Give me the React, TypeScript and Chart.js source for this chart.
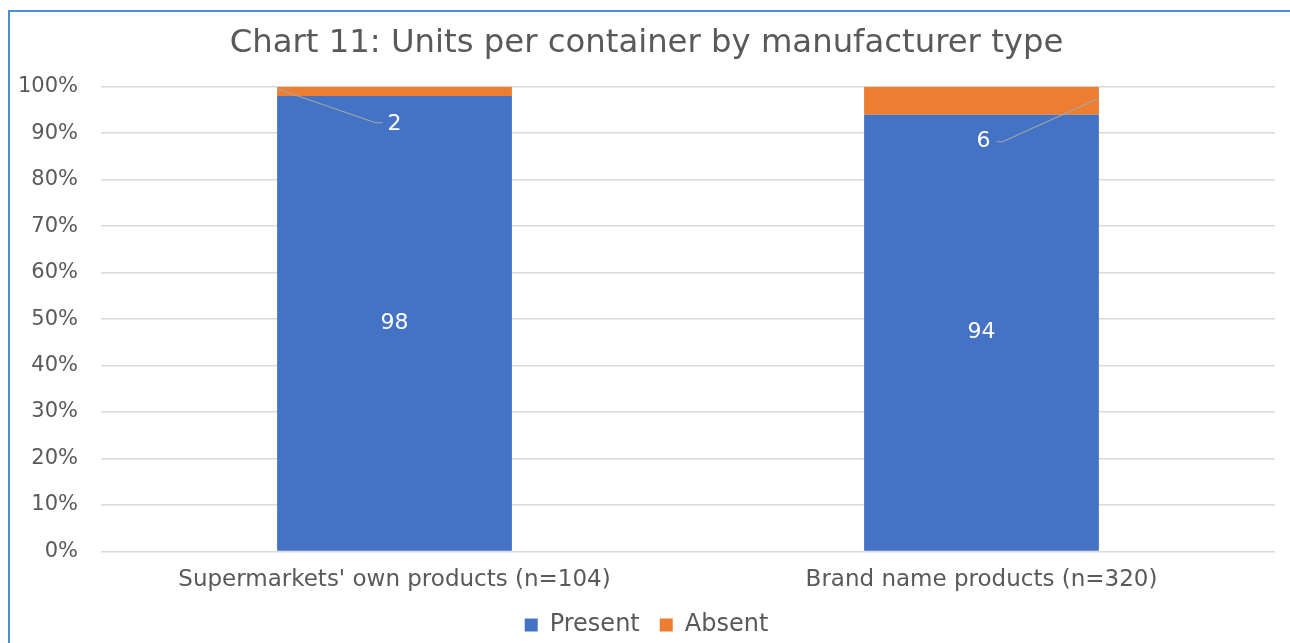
import React, { useEffect, useRef } from "react";
import { Chart, registerables } from "chart.js";

Chart.register(...registerables);

const categories = ["Supermarkets' own products (n=104)", "Brand name products (n=320)"];
const presentValues = [98, 94];
const absentValues = [2, 6];
const yTicks = [0, 10, 20, 30, 40, 50, 60, 70, 80, 90, 100];

const FONT = "'DejaVu Sans', sans-serif";
const GREY = "#595959";

const labelPlugin = {
  id: "barLabels",
  afterDatasetsDraw(chart: any) {
    const ctx = chart.ctx;
    ctx.save();
    ctx.font = `22px ${FONT}`;
    ctx.fillStyle = "#ffffff";
    ctx.textAlign = "center";
    ctx.textBaseline = "middle";
    const m0 = chart.getDatasetMeta(0);
    m0.data.forEach((bar: any, i: number) => {
      const v = chart.data.datasets[0].data[i];
      ctx.fillText(String(v), bar.x, (bar.y + bar.base) / 2);
    });
    const m1 = chart.getDatasetMeta(1);
    m1.data.forEach((bar: any, i: number) => {
      const v = chart.data.datasets[1].data[i];
      const top = bar.y;
      const half = bar.width / 2;
      ctx.strokeStyle = "#a6a6a6";
      ctx.lineWidth = 1.2;
      if (i === 0) {
        const lx = bar.x, ly = top + 38;
        ctx.beginPath();
        ctx.moveTo(bar.x - half, top + 2);
        ctx.lineTo(lx - 19, ly - 2);
        ctx.lineTo(lx - 12, ly - 2);
        ctx.stroke();
        ctx.fillStyle = "#ffffff";
        ctx.fillText(String(v), lx, ly);
      } else {
        const lx = bar.x + 2, ly = top + 55;
        ctx.beginPath();
        ctx.moveTo(lx + 13, ly);
        ctx.lineTo(lx + 19, ly);
        ctx.lineTo(bar.x + half - 1, top + 12);
        ctx.stroke();
        ctx.fillStyle = "#ffffff";
        ctx.fillText(String(v), lx, ly);
      }
    });
    ctx.restore();
  },
};

export default function App() {
  const ref = useRef<HTMLCanvasElement>(null);
  useEffect(() => {
    if (!ref.current) return;
    const chart = new Chart(ref.current, {
      type: "bar",
      data: {
        labels: categories,
        datasets: [
          { label: "Present", data: presentValues, backgroundColor: "#4472c4", barPercentage: 0.4, categoryPercentage: 1 },
          { label: "Absent", data: absentValues, backgroundColor: "#ed7d31", barPercentage: 0.4, categoryPercentage: 1 },
        ],
      },
      options: {
        animation: false,
        responsive: false,
        layout: { padding: { left: 8, right: 13, top: 0, bottom: -4 } },
        plugins: {
          title: {
            display: true,
            text: "Chart 11: Units per container by manufacturer type",
            color: GREY,
            font: { family: FONT, size: 32.3, weight: "normal" },
            padding: { top: 12, bottom: 24 },
          },
          legend: {
            position: "bottom",
            labels: {
              color: GREY,
              font: { family: FONT, size: 24 },
              boxWidth: 13,
              boxHeight: 13,
              padding: 20,
            },
          },
          tooltip: { enabled: false },
        },
        scales: {
          x: {
            stacked: true,
            grid: { display: false },
            border: { display: false },
            ticks: { color: GREY, font: { family: FONT, size: 23 }, padding: 7 },
            afterFit(scale: any) {
              scale.height = scale.height - 8;
            },
          },
          y: {
            stacked: true,
            min: 0,
            max: 100,
            afterFit(scale: any) {
              scale.width = 83;
            },
            afterBuildTicks(scale: any) {
              scale.ticks = yTicks.map((v) => ({ value: v }));
            },
            grid: { color: "#d9d9d9", lineWidth: 1.5, drawTicks: false },
            border: { display: false },
            ticks: {
              color: GREY,
              font: { family: FONT, size: 21 },
              padding: 23,
              callback: (v: any) => `${v}%`,
            },
          },
        },
      },
      plugins: [labelPlugin],
    });
    return () => chart.destroy();
  }, []);
  return (
    <div
      style={{
        position: "fixed",
        left: 8,
        top: 10,
        width: 1290,
        height: 640,
        borderTop: "2px solid #4a8fd6",
        borderLeft: "2px solid #4a8fd6",
        background: "#fff",
      }}
    >
      <canvas ref={ref} width={1278} height={631} style={{ display: "block" }} />
    </div>
  );
}
